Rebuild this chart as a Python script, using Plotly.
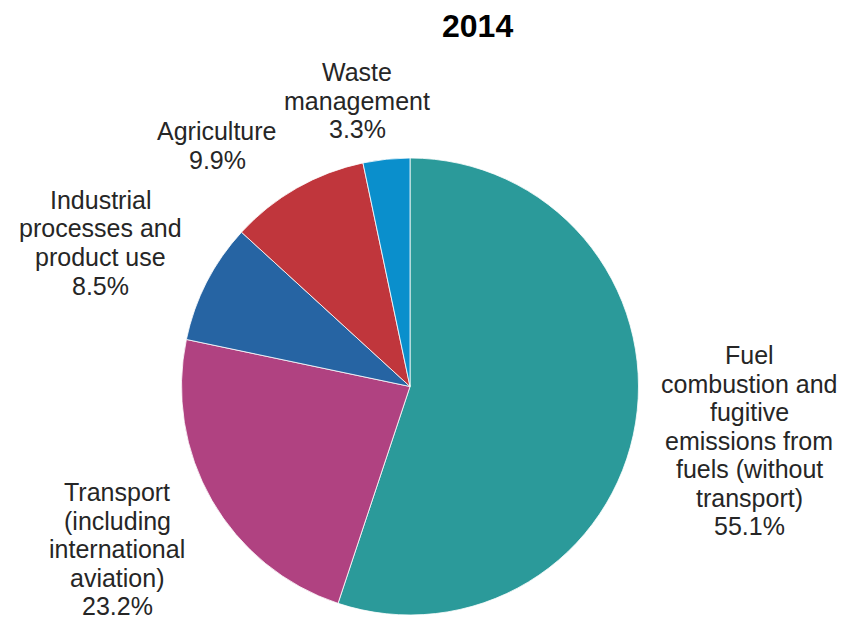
import plotly.graph_objects as go

# Greenhouse gas emissions by source sector, 2014 (share of total, %)
title = "2014"
sectors = [
    "Fuel\ncombustion and\nfugitive\nemissions from\nfuels (without\ntransport)",
    "Transport\n(including\ninternational\naviation)",
    "Industrial\nprocesses and\nproduct use",
    "Agriculture",
    "Waste\nmanagement",
]
shares = [55.1, 23.2, 8.5, 9.9, 3.3]
colors = ["#2B9A9A", "#B04281", "#2664A3", "#C0363C", "#0A8FCC"]

W, H = 848, 625
# label block anchors (pixel centre of first line) and line pitch
label_anchor = [(749, 355), (117, 492), (100, 200), (217, 131), (357, 72)]
pitch = 28.5

fig = go.Figure(
    go.Pie(
        labels=[s.replace("\n", " ") for s in sectors],
        values=shares,
        marker=dict(colors=colors, line=dict(color="#ffffff", width=0.8)),
        sort=False,
        direction="clockwise",
        rotation=0,
        textinfo="none",
        hoverinfo="label+percent",
        showlegend=False,
        domain=dict(x=[181.5 / W, 638.5 / W], y=[1 - 615 / H, 1 - 158 / H]),
    )
)

annotations = []
for name, val, (ax, ay) in zip(sectors, shares, label_anchor):
    lines = name.split("\n") + [f"{val:.1f}%"]
    for i, line in enumerate(lines):
        annotations.append(
            dict(
                text=line,
                x=ax / W,
                y=1 - (ay + i * pitch) / H,
                xref="paper",
                yref="paper",
                xanchor="center",
                yanchor="middle",
                showarrow=False,
                font=dict(family="Liberation Sans, Arial, sans-serif", size=25, color="#262626"),
            )
        )

annotations.append(
    dict(
        text=f"<b>{title}</b>",
        x=477 / W,
        y=1 - 26 / H,
        xref="paper",
        yref="paper",
        xanchor="center",
        yanchor="middle",
        showarrow=False,
        font=dict(family="Liberation Sans, Arial, sans-serif", size=32, color="#000000"),
    )
)

fig.update_layout(
    width=W,
    height=H,
    margin=dict(l=0, r=0, t=0, b=0),
    paper_bgcolor="#ffffff",
    plot_bgcolor="#ffffff",
    annotations=annotations,
)

fig.write_html("out.html")
